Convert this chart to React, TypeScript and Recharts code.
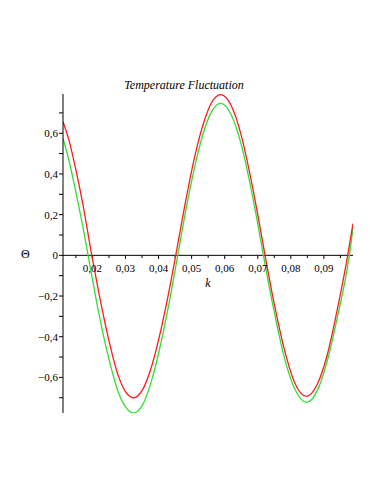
import React from "react";
import {
  LineChart,
  Line,
  XAxis,
  YAxis,
  ReferenceLine,
  ReferenceDot,
} from "recharts";

// wave number k
const redK = [
  0.0111, 0.013, 0.015, 0.017, 0.0198, 0.022, 0.025, 0.028, 0.03, 0.0324,
  0.035, 0.038, 0.041, 0.043, 0.0452, 0.048, 0.051, 0.054, 0.056, 0.0588,
  0.062, 0.065, 0.068, 0.07, 0.0722, 0.075, 0.078, 0.081, 0.0847, 0.088,
  0.091, 0.094, 0.0972, 0.0988,
];
const redTheta = [
  0.657, 0.56, 0.42, 0.26, 0, -0.19, -0.42, -0.6, -0.67, -0.7,
  -0.665, -0.54, -0.345, -0.19, 0, 0.25, 0.49, 0.67, 0.75, 0.79,
  0.735, 0.59, 0.37, 0.2, 0, -0.24, -0.46, -0.62, -0.693, -0.634,
  -0.49, -0.27, 0, 0.156,
];

const greenK = [
  0.0111, 0.013, 0.015, 0.017, 0.0187, 0.022, 0.025, 0.028, 0.03, 0.0324,
  0.035, 0.038, 0.041, 0.043, 0.0458, 0.048, 0.051, 0.054, 0.056, 0.0588,
  0.062, 0.065, 0.068, 0.07, 0.0717, 0.075, 0.078, 0.081, 0.0847, 0.088,
  0.091, 0.094, 0.0977, 0.0988,
];
const greenTheta = [
  0.575, 0.46, 0.31, 0.15, 0, -0.29, -0.51, -0.68, -0.745, -0.775,
  -0.74, -0.61, -0.41, -0.25, 0, 0.2, 0.44, 0.625, 0.705, 0.747,
  0.69, 0.545, 0.325, 0.155, 0, -0.28, -0.5, -0.65, -0.723, -0.665,
  -0.52, -0.31, 0, 0.133,
];

const xMajor = [0.02, 0.03, 0.04, 0.05, 0.06, 0.07, 0.08, 0.09];
const xMinor = [0.015, 0.025, 0.035, 0.045, 0.055, 0.065, 0.075, 0.085, 0.095];
const yTicks = [
  -0.7, -0.6, -0.5, -0.4, -0.3, -0.2, -0.1, 0, 0.1, 0.2, 0.3, 0.4, 0.5, 0.6,
  0.7,
];

const redData = redK.map((k, i) => ({ k, theta: redTheta[i] }));
const greenData = greenK.map((k, i) => ({ k, theta: greenTheta[i] }));

const FONT = "'Liberation Serif', 'Times New Roman', Times, serif";

// "0,6" style labels, only on even tenths
const fmtY = (v: number) => {
  const n = Math.round(v * 10);
  if (n % 2 !== 0) return "";
  if (n === 0) return "0";
  const s = Math.abs(v).toFixed(1).replace(".", ",");
  return v < 0 ? "\u2212" + s : s;
};
const fmtX = (v: number) => v.toFixed(2).replace(".", ",");

export default function App() {
  return (
    <div
      style={{
        position: "absolute",
        left: 0,
        top: 0,
        width: 382,
        height: 494,
        background: "#fff",
        fontFamily: FONT,
      }}
    >
      <div
        style={{
          position: "absolute",
          left: 0,
          width: 368,
          top: 78,
          textAlign: "center",
          fontFamily: FONT,
          fontStyle: "italic",
          fontSize: 12,
        }}
      >
        Temperature Fluctuation
      </div>
      <div
        style={{
          position: "absolute",
          left: 21,
          top: 247,
          fontFamily: FONT,
          fontSize: 12,
        }}
      >
        Θ
      </div>
      <LineChart
        width={382}
        height={494}
        margin={{ top: 94, right: 29, bottom: 81, left: 23 }}
        style={{ fontFamily: FONT }}
      >
        <XAxis
          type="number"
          dataKey="k"
          domain={[0.0111, 0.0988]}
          allowDataOverflow
          hide
        />
        <YAxis
          type="number"
          domain={[-0.775, 0.793]}
          allowDataOverflow
          ticks={yTicks}
          interval={0}
          width={40}
          tickSize={4}
          tickMargin={1}
          tickFormatter={fmtY}
          tick={{ fontFamily: FONT, fontSize: 11, fill: "#000" }}
          stroke="#000"
        />
        <ReferenceLine y={0} stroke="#000" />
        {xMajor.map((v) => (
          <ReferenceLine
            key={"M" + v}
            segment={[
              { x: v, y: 0 },
              { x: v, y: -0.018 },
            ]}
            stroke="#000"
          />
        ))}
        {xMinor.map((v) => (
          <ReferenceLine
            key={"m" + v}
            segment={[
              { x: v, y: 0 },
              { x: v, y: -0.013 },
            ]}
            stroke="#000"
          />
        ))}
        {xMajor.map((v) => (
          <ReferenceDot
            key={"L" + v}
            x={v}
            y={0}
            r={0}
            stroke="none"
            label={{
              value: fmtX(v),
              position: "bottom",
              offset: 9,
              fontFamily: FONT,
              fontSize: 11,
              fill: "#000",
            }}
          />
        ))}
        <ReferenceDot
          x={0.0549}
          y={0}
          r={0}
          stroke="none"
          label={{
            value: "k",
            position: "bottom",
            offset: 23,
            fontFamily: FONT,
            fontStyle: "italic",
            fontSize: 12,
            fill: "#000",
          }}
        />
        <Line
          data={greenData}
          dataKey="theta"
          type="monotone"
          stroke="#33dd33"
          strokeWidth={1.3}
          dot={false}
          isAnimationActive={false}
        />
        <Line
          data={redData}
          dataKey="theta"
          type="monotone"
          stroke="#ff1a1a"
          strokeWidth={1.3}
          dot={false}
          isAnimationActive={false}
        />
      </LineChart>
    </div>
  );
}
